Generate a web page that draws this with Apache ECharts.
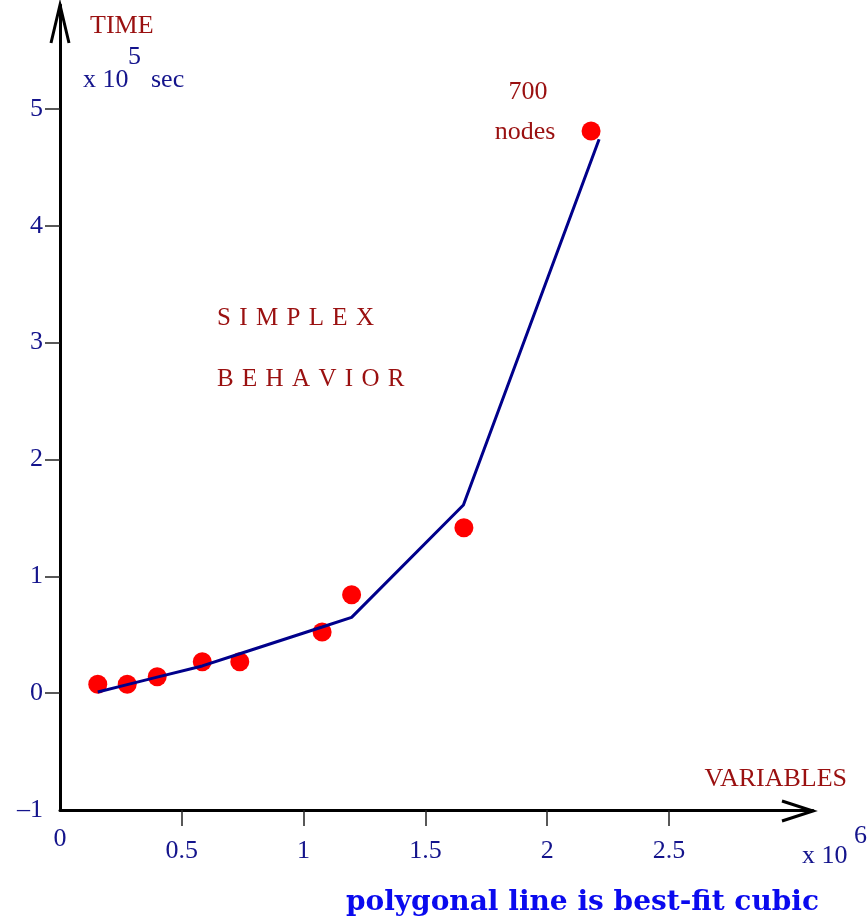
<!DOCTYPE html>
<html>
<head>
<meta charset="utf-8">
<script src="https://cdn.jsdelivr.net/npm/echarts@6/dist/echarts.min.js"></script>
<style>
  html, body { margin: 0; padding: 0; background: #fff; }
  #main { width: 867px; height: 920px; }
</style>
</head>
<body>
<div id="main"></div>
<script>
// measured run times (x 10^5 sec) against problem size (x 10^6 variables)
var dotX = [0.155, 0.276, 0.399, 0.584, 0.738, 1.076, 1.197, 1.658, 2.180];
var dotY = [0.076, 0.076, 0.141, 0.269, 0.269, 0.524, 0.843, 1.416, 4.812];

// best-fit cubic, drawn as a polygonal line
var fitX = [0.155, 0.276, 0.399, 0.584, 0.738, 1.076, 1.197, 1.656, 2.213];
var fitY = [0.010, 0.073, 0.137, 0.233, 0.337, 0.566, 0.649, 1.611, 4.741];

var xTicks = [0.5, 1, 1.5, 2, 2.5];
var yTicks = [0, 1, 2, 3, 4, 5];
var yLabels = [-1, 0, 1, 2, 3, 4, 5];

var serif = 'Liberation Serif';
var red = '#9a1010';
var navy = '#14148c';

function pairs(xs, ys) {
    var out = [];
    for (var i = 0; i < xs.length; i++) out.push([xs[i], ys[i]]);
    return out;
}

function txt(s, x, y, color, size, align) {
    return {
        type: 'text', x: x, y: y, z: 10,
        style: {
            text: s,
            font: size + 'px "' + serif + '"',
            fill: color,
            textAlign: align || 'left',
            textVerticalAlign: 'middle'
        }
    };
}

var sp = '\u2004';
var chart = echarts.init(document.getElementById('main'));
var option = {
    animation: false,
    grid: { left: 60, right: 54, top: 5, bottom: 110 },
    xAxis: {
        type: 'value',
        min: 0,
        max: 3.091,
        splitLine: { show: false },
        axisLine: { onZero: false, lineStyle: { color: '#000', width: 3 } },
        axisTick: { customValues: xTicks, length: 16, lineStyle: { color: '#222', width: 1.5 } },
        axisLabel: {
            customValues: xTicks,
            margin: 28,
            color: navy,
            fontFamily: serif,
            fontSize: 26
        }
    },
    yAxis: {
        type: 'value',
        min: -1,
        max: 5.89,
        splitLine: { show: false },
        axisLine: { onZero: false, lineStyle: { color: '#000', width: 3 } },
        axisTick: { customValues: yTicks, length: 15, lineStyle: { color: '#222', width: 1.5 } },
        axisLabel: {
            customValues: yLabels,
            margin: 17,
            color: navy,
            fontFamily: serif,
            fontSize: 26,
            formatter: function (v) { return v < 0 ? '\u2013' + (-v) : String(v); }
        }
    },
    series: [
        {
            name: 'measured',
            type: 'scatter',
            symbol: 'circle',
            symbolSize: 19,
            itemStyle: { color: '#ff0000', opacity: 1 },
            data: pairs(dotX, dotY),
            z: 2
        },
        {
            name: 'cubic fit',
            type: 'line',
            showSymbol: false,
            lineStyle: { color: '#00008b', width: 3 },
            data: pairs(fitX, fitY),
            z: 3
        }
    ],
    graphic: [
        // arrow heads
        { type: 'polyline', shape: { points: [[51, 43], [60, 5], [69, 43]] }, style: { stroke: '#000', lineWidth: 3, fill: null } },
        { type: 'polyline', shape: { points: [[782, 801], [813, 811], [782, 821]] }, style: { stroke: '#000', lineWidth: 3, fill: null } },
        txt('TIME', 90, 26, red, 26),
        txt('x 10', 83, 80, navy, 26),
        txt('5', 128, 57, navy, 26),
        txt('sec', 151, 80, navy, 26),
        txt('700', 528, 92, red, 26, 'center'),
        txt('nodes', 525, 132, red, 26, 'center'),
        txt(['S', 'I', 'M', 'P', 'L', 'E', 'X'].join(sp), 217, 318, red, 25),
        txt(['B', 'E', 'H', 'A', 'V', 'I', 'O', 'R'].join(sp), 217, 379, red, 25),
        txt('VARIABLES', 847, 779, red, 26, 'right'),
        txt('0', 60, 839, navy, 26, 'center'),
        txt('x 10', 802, 856, navy, 26),
        txt('6', 854, 836, navy, 26),
        {
            type: 'text', x: 819, y: 903, z: 10,
            style: {
                text: 'polygonal line is best-fit cubic',
                font: 'bold 28px "DejaVu Serif"',
                fill: '#0a0aee',
                textAlign: 'right',
                textVerticalAlign: 'middle'
            }
        }
    ]
};
chart.setOption(option);
</script>
</body>
</html>
